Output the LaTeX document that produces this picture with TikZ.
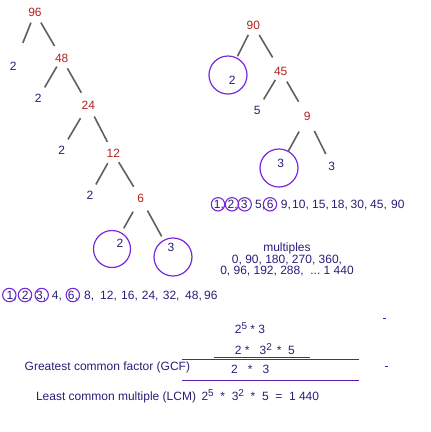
\documentclass[tikz,border=0pt,12pt]{standalone}
\usepackage{fontspec}
\setmainfont{Liberation Sans}
\usepackage{tikz}

\definecolor{facred}{RGB}{178,34,34}
\definecolor{primeblue}{RGB}{40,30,120}
\definecolor{ringpurple}{RGB}{120,40,220}
\definecolor{rulepurple}{RGB}{90,30,170}
\definecolor{branchgrey}{RGB}{95,95,95}

\newcommand{\pw}[1]{\raisebox{4pt}{\fontsize{10}{10}\selectfont #1}}

\begin{document}
\begin{tikzpicture}[x=1pt, y=-1pt,
    factor/.style={text=facred, inner sep=0pt, outer sep=0pt},
    prime/.style={text=primeblue, inner sep=0pt, outer sep=0pt},
    bigring/.style={circle, draw=ringpurple, line width=1.2pt, minimum size=#1, inner sep=0pt, outer sep=0pt},
    dotring/.style={circle, draw=ringpurple, line width=1.1pt, minimum size=13.4pt, inner sep=0pt},
    branch/.style={draw=branchgrey, line width=1.6pt},
    rule/.style={draw=rulepurple, line width=1pt},
    txt/.style={text=primeblue, inner sep=0pt, anchor=base west}]
  \useasboundingbox (0,0) rectangle (431,432);

  % factor tree of 96
  \node[factor] (n96) at ( 35.0, 12.5) {96};
  \node[prime]  (a1)  at ( 13.3, 66.7) {2};
  \node[factor] (n48) at ( 61.7, 58.3) {48};
  \node[prime]  (a2)  at ( 38.3, 98.3) {2};
  \node[factor] (n24) at ( 88.3,105.0) {24};
  \node[prime]  (a3)  at ( 61.7,150.0) {2};
  \node[factor] (n12) at (113.3,153.3) {12};
  \node[prime]  (a4)  at ( 90.0,195.0) {2};
  \node[factor] (n6)  at (140.7,198.3) {6};
  \node[prime]  (a5)  at (120.0,243.0) {2};
  \node[prime]  (a6)  at (171.0,247.0) {3};
  \node[bigring=37pt] (r5) at (112.0,249.0) {};
  \node[bigring=38pt] (r6) at (173.0,257.0) {};

  % factor tree of 90
  \node[factor] (n90) at (253.3, 25.0) {90};
  \node[prime]  (b1)  at (232.3, 80.0) {2};
  \node[factor] (n45) at (280.7, 71.0) {45};
  \node[prime]  (b2)  at (257.3,110.0) {5};
  \node[factor] (n9)  at (307.3,116.7) {9};
  \node[prime]  (b3)  at (280.7,163.3) {3};
  \node[prime]  (b4)  at (331.7,166.0) {3};
  \node[bigring=38pt] (q1) at (228.0, 75.0) {};
  \node[bigring=38pt] (q3) at (279.0,168.0) {};

  \foreach \p/\c/\s/\e in {n96/a1/6.4/21.2, n96/n48/6.8/9.3, n48/a2/4.7/7.8,
      n48/n24/6.6/9.2, n24/a3/10.5/7.4, n24/n12/8.3/8.2, n12/a4/6.5/7.3,
      n12/n6/5.5/8.5, n6/r5/10.5/5.3, n6/r6/9.2/4.5,
      n90/q1/6.4/2.0, n90/n45/6.6/10.9, n45/b2/5.5/7.5, n45/n9/7.4/12.4,
      n9/q3/12.2/0.5, n9/b4/11.2/8.6}
    \draw[branch, shorten <=\s pt, shorten >=\e pt] (\p) -- (\c);

  % factors of 90
  \foreach \x/\t [count=\i] in {213.7/{1,}, 227.4/{2,}, 240.7/3, 255.0/{5,},
      266.7/6, 280.7/{9,}, 292.0/{10,}, 312.0/{15,}, 331.0/{18,},
      350.5/{30,}, 370.0/{45,}, 391.0/90}
    \node[txt] (rf\i) at (\x,208.8) {\t};
  \foreach \x [count=\i] in {218.0, 232.0, 244.7, 270.0}
    \node[dotring] (rc\i) at (\x,204.3) {};

  % factors of 96
  \foreach \x/\t [count=\i] in {6.4/{1,}, 21.7/{2,}, 36.0/{3,}, 51.7/{4,},
      67.7/{6,}, 84.0/{8,}, 100.0/{12,}, 121.0/{16,}, 141.7/{24,},
      162.7/{32,}, 185.0/{48,}, 204.0/96}
    \node[txt] (lf\i) at (\x,299.3) {\t};
  \foreach \x [count=\i] in {9.3, 25.0, 41.7, 72.8}
    \node[dotring] (lc\i) at (\x,295.0) {};

  % multiples
  \node[prime, align=center, font=\fontsize{12}{11.7}\selectfont] (mult) at (287.0,259.5)
    {multiples\\0, 90, 180, 270, 360,\\0, 96, 192, 288,~~...~1~440};

  % GCF and LCM
  \node[txt] (gcfa) at (234.7,333.5) {2\pw{5} * 3};
  \node[txt] (gcfb) at (234.7,354.5) {2 *~~~3\pw{2}\hspace{5pt}*~~5};
  \node[txt] (gcflabel) at (24.5,370.3) {Greatest common factor (GCF)};
  \node[txt] (gcf) at (231.0,373.3) {2~~~*~~~3};
  \node[txt] (lcm) at (35.8,400.0)
    {Least common multiple (LCM)\hspace{5.5pt}2\pw{5}~~*~~3\pw{2}~~*~~5~~=~~1~440};

  \draw[rule] (214.0,357.3) -- (310.0,357.3);
  \draw[rule] (181.7,359.7) -- (359.0,359.7);
  \draw[rule] (181.7,380.7) -- (359.0,380.7);
  \draw[rule] (383.0,318.0) -- (386.0,318.0);
  \draw[rule] (385.0,366.0) -- (387.5,366.0);
\end{tikzpicture}
\end{document}
